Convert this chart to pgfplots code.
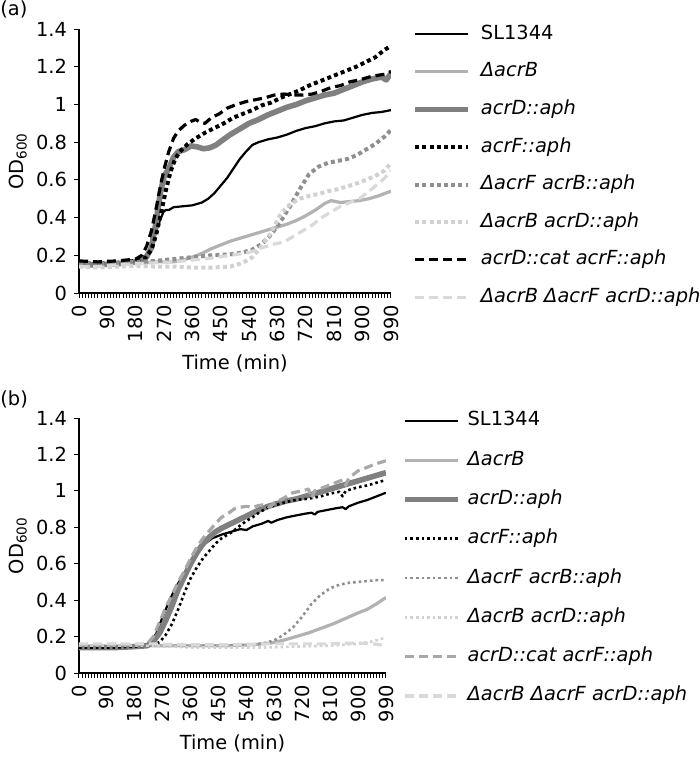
\documentclass[border=0pt]{standalone}
\usepackage{fontspec}
\setmainfont{DejaVu Sans}
\usepackage{pgfplots}
\pgfplotsset{compat=1.18}
\newcommand{\fs}{\fontsize{9.7}{11.6}\selectfont}
\definecolor{cLB}{gray}{0.70}
\definecolor{cDG}{gray}{0.50}
\definecolor{cMG}{gray}{0.56}
\definecolor{cVL}{gray}{0.82}
\definecolor{cLD}{gray}{0.85}
\definecolor{cGD}{gray}{0.66}
\pgfplotsset{
 base/.style={
  scale only axis, axis lines=left,
  axis line style={-, line width=0.6pt},
  xmin=0,xmax=990,ymin=0,ymax=1.4,
  xtick={0,90,...,990}, minor x tick num=8,
  xticklabels={0,90,180,270,360,450,540,630,720,810,900,990},
  ytick={0,0.2,0.4,0.6,0.8,1,1.2,1.4},
  yticklabels={0,0.2,0.4,0.6,0.8,1,1.2,1.4},
  tick align=outside, major tick length=2.5pt, minor tick length=2.5pt,
  tick style={line width=0.5pt, black},
  xticklabel style={rotate=90, anchor=east, font=\fs},
  yticklabel style={font=\fs},
  /pgf/number format/assume math mode=true,
  ylabel={OD\textsubscript{600}}, xlabel={Time (min)},
  label style={font=\fs},
  legend cell align=left,
  legend image code/.code={\draw[##1] (0pt,0pt) -- (26.5pt,0pt);},
  every axis plot/.append style={line join=round},
 }
}
\begin{document}
\begin{tikzpicture}
\useasboundingbox (0,0) rectangle (350pt,-380.5pt);
\node[anchor=north west, inner sep=0pt, font=\fs] at (0pt,0pt) {(a)};
\node[anchor=north west, inner sep=0pt, font=\fs] at (0pt,-195pt) {(b)};
% ---------------- panel (a)
\begin{axis}[base, at={(39.5pt,-146.5pt)}, anchor=south west, width=156pt, height=132pt,
  ylabel style={at={(axis description cs:-0.1955,0.5)}, anchor=center},
  xlabel style={at={(axis description cs:0.5,-0.265)}, anchor=center},
  legend style={at={(axis description cs:1.0673,1.0197)}, anchor=north west, draw=none, fill=none,
    inner sep=0pt, font=\fs, row sep=8.8pt, column sep=5pt,
    nodes={inner sep=0pt, text height=7.5pt, text depth=2.5pt}},
]
\addplot[black, line width=1.1pt] coordinates {
(0,0.16)(30,0.155)(60,0.155)(90,0.155)(120,0.16)(150,0.165)(180,0.17)(200,0.18)(215,0.2)(230,0.25)(245,0.33)(258,0.39)(268,0.43)(275,0.44)(285,0.44)(300,0.455)(330,0.46)(360,0.465)(390,0.48)(410,0.50)(430,0.53)(450,0.57)(470,0.61)(490,0.66)(510,0.71)(530,0.75)(550,0.785)(570,0.80)(600,0.815)(630,0.825)(660,0.84)(690,0.86)(720,0.875)(750,0.885)(780,0.9)(810,0.91)(840,0.915)(870,0.93)(900,0.945)(930,0.955)(960,0.96)(990,0.97)};
\addlegendentry{SL1344}
\addplot[cLB, line width=1.6pt] coordinates {
(0,0.15)(60,0.145)(120,0.15)(180,0.16)(240,0.165)(300,0.165)(330,0.175)(360,0.19)(390,0.21)(420,0.235)(450,0.255)(480,0.275)(510,0.29)(540,0.305)(570,0.32)(600,0.335)(630,0.35)(660,0.365)(690,0.385)(720,0.41)(750,0.44)(780,0.475)(800,0.49)(830,0.48)(860,0.485)(890,0.49)(920,0.5)(950,0.515)(990,0.54)};
\addlegendentry{\textit{ΔacrB}}
\addplot[cDG, line width=2.8pt] coordinates {
(0,0.15)(60,0.15)(120,0.155)(180,0.165)(210,0.18)(230,0.24)(245,0.38)(258,0.53)(270,0.62)(285,0.66)(300,0.72)(315,0.75)(335,0.76)(355,0.78)(375,0.775)(395,0.765)(415,0.77)(435,0.785)(455,0.81)(480,0.84)(510,0.87)(540,0.9)(570,0.92)(600,0.945)(630,0.965)(660,0.985)(690,1.0)(720,1.02)(750,1.035)(780,1.05)(810,1.06)(840,1.08)(870,1.1)(900,1.12)(930,1.135)(960,1.145)(975,1.13)(990,1.165)};
\addlegendentry{\textit{acrD::aph}}
\addplot[black, line width=2pt, dash pattern=on 2pt off 1.6pt] coordinates {
(0,0.16)(60,0.155)(120,0.16)(180,0.17)(210,0.185)(230,0.23)(245,0.31)(260,0.42)(275,0.54)(290,0.64)(305,0.71)(320,0.75)(345,0.79)(370,0.82)(400,0.85)(430,0.875)(460,0.9)(490,0.93)(520,0.95)(550,0.97)(580,0.995)(610,1.01)(640,1.035)(670,1.055)(700,1.075)(730,1.1)(760,1.12)(790,1.14)(820,1.16)(850,1.18)(880,1.2)(910,1.225)(940,1.25)(970,1.29)(990,1.31)};
\addlegendentry{\textit{acrF::aph}}
\addplot[cMG, line width=2pt, dash pattern=on 2pt off 1.6pt] coordinates {
(0,0.16)(60,0.155)(120,0.16)(180,0.165)(240,0.17)(300,0.18)(360,0.19)(420,0.2)(480,0.205)(520,0.215)(550,0.23)(580,0.26)(610,0.31)(640,0.38)(670,0.46)(700,0.55)(730,0.63)(760,0.67)(790,0.69)(820,0.7)(850,0.71)(880,0.73)(910,0.76)(940,0.79)(970,0.83)(990,0.865)};
\addlegendentry{\textit{ΔacrF acrB::aph}}
\addplot[cVL, line width=2pt, dash pattern=on 2pt off 1.6pt] coordinates {
(0,0.14)(60,0.135)(120,0.14)(180,0.145)(240,0.14)(300,0.14)(360,0.135)(420,0.135)(480,0.14)(520,0.16)(550,0.19)(580,0.25)(610,0.32)(640,0.42)(670,0.47)(700,0.5)(730,0.515)(760,0.525)(790,0.54)(820,0.55)(850,0.565)(880,0.58)(910,0.6)(940,0.62)(970,0.65)(990,0.69)};
\addlegendentry{\textit{ΔacrB acrD::aph}}
\addplot[black, line width=1.6pt, dash pattern=on 4.5pt off 2.5pt] coordinates {
(0,0.17)(30,0.168)(60,0.165)(90,0.168)(120,0.17)(150,0.175)(180,0.18)(200,0.2)(215,0.25)(230,0.33)(245,0.45)(260,0.58)(272,0.67)(285,0.75)(300,0.82)(315,0.86)(335,0.89)(355,0.91)(370,0.92)(385,0.905)(400,0.9)(420,0.93)(445,0.95)(470,0.98)(500,1.0)(530,1.015)(560,1.025)(590,1.035)(620,1.05)(650,1.055)(680,1.05)(710,1.05)(740,1.055)(770,1.07)(800,1.09)(830,1.1)(860,1.12)(890,1.13)(920,1.145)(950,1.155)(970,1.16)(990,1.175)};
\addlegendentry{\textit{acrD::cat acrF::aph}}
\addplot[cLD, line width=1.6pt, dash pattern=on 4.5pt off 2.5pt] coordinates {
(0,0.14)(60,0.14)(120,0.15)(180,0.155)(240,0.16)(300,0.165)(360,0.175)(420,0.185)(480,0.2)(540,0.215)(580,0.24)(620,0.26)(650,0.27)(680,0.3)(710,0.33)(740,0.36)(770,0.4)(800,0.43)(830,0.46)(860,0.48)(890,0.5)(920,0.54)(950,0.58)(970,0.61)(990,0.65)};
\addlegendentry{\textit{ΔacrB ΔacrF acrD::aph}}
\end{axis}
% ---------------- panel (b)
\begin{axis}[base, at={(39.5pt,-336.5pt)}, anchor=south west, width=153.5pt, height=127.5pt,
  ylabel style={at={(axis description cs:-0.199,0.5)}, anchor=center},
  xlabel style={at={(axis description cs:0.5,-0.278)}, anchor=center},
  legend style={at={(axis description cs:1.0511,1.0298)}, anchor=north west, draw=none, fill=none,
    inner sep=0pt, font=\fs, row sep=9.65pt, column sep=3.5pt,
    nodes={inner sep=0pt, text height=7.5pt, text depth=2.5pt}},
]
\addplot[black, line width=1.1pt] coordinates {
(0,0.14)(30,0.135)(60,0.14)(90,0.14)(120,0.14)(150,0.14)(180,0.145)(210,0.15)(230,0.165)(250,0.22)(270,0.31)(290,0.39)(310,0.465)(330,0.52)(350,0.58)(370,0.635)(390,0.68)(410,0.715)(430,0.74)(460,0.76)(490,0.775)(520,0.79)(540,0.785)(560,0.805)(590,0.82)(610,0.835)(620,0.825)(640,0.84)(670,0.855)(700,0.865)(730,0.875)(750,0.88)(760,0.87)(770,0.885)(800,0.895)(830,0.905)(850,0.91)(860,0.9)(870,0.915)(900,0.935)(930,0.95)(960,0.97)(990,0.99)};
\addlegendentry{SL1344}
\addplot[cLB, line width=1.6pt] coordinates {
(0,0.14)(120,0.145)(240,0.15)(360,0.15)(480,0.15)(560,0.155)(620,0.165)(660,0.18)(700,0.2)(740,0.22)(780,0.245)(820,0.27)(860,0.3)(900,0.33)(930,0.35)(960,0.38)(990,0.415)};
\addlegendentry{\textit{ΔacrB}}
\addplot[cDG, line width=2.8pt] coordinates {
(0,0.14)(60,0.14)(120,0.14)(180,0.145)(220,0.15)(240,0.175)(260,0.22)(280,0.29)(300,0.37)(320,0.46)(340,0.53)(360,0.6)(380,0.66)(400,0.71)(420,0.745)(440,0.775)(460,0.795)(490,0.82)(520,0.845)(550,0.87)(580,0.895)(610,0.915)(640,0.93)(670,0.945)(700,0.955)(730,0.97)(760,0.985)(790,1.0)(820,1.015)(850,1.03)(880,1.045)(910,1.06)(940,1.075)(970,1.09)(990,1.1)};
\addlegendentry{\textit{acrD::aph}}
\addplot[black, line width=1.3pt, dash pattern=on 1.3pt off 1.5pt] coordinates {
(0,0.14)(60,0.14)(120,0.14)(180,0.145)(240,0.155)(260,0.17)(280,0.21)(300,0.27)(320,0.35)(340,0.44)(360,0.52)(380,0.58)(400,0.63)(420,0.67)(440,0.71)(460,0.74)(490,0.77)(505,0.79)(520,0.81)(540,0.835)(560,0.855)(580,0.88)(610,0.91)(640,0.925)(670,0.94)(700,0.95)(730,0.955)(750,0.96)(780,0.97)(810,0.985)(840,0.995)(850,0.97)(860,1.0)(900,1.02)(930,1.03)(960,1.045)(990,1.06)};
\addlegendentry{\textit{acrF::aph}}
\addplot[cMG, line width=1.3pt, dash pattern=on 1.3pt off 1.5pt] coordinates {
(0,0.15)(120,0.15)(240,0.15)(360,0.145)(480,0.15)(560,0.155)(600,0.165)(630,0.18)(660,0.21)(690,0.25)(720,0.31)(750,0.38)(780,0.43)(810,0.465)(840,0.485)(870,0.495)(900,0.5)(930,0.505)(960,0.51)(990,0.51)};
\addlegendentry{\textit{ΔacrF acrB::aph}}
\addplot[cVL, line width=1.3pt, dash pattern=on 1.3pt off 1.5pt] coordinates {
(0,0.15)(120,0.15)(240,0.15)(360,0.14)(480,0.14)(600,0.14)(700,0.145)(800,0.15)(900,0.16)(950,0.175)(990,0.195)};
\addlegendentry{\textit{ΔacrB acrD::aph}}
\addplot[cGD, line width=1.6pt, dash pattern=on 4.5pt off 2.5pt] coordinates {
(0,0.155)(60,0.155)(120,0.155)(180,0.155)(220,0.16)(240,0.2)(260,0.28)(280,0.36)(300,0.43)(320,0.5)(340,0.56)(360,0.63)(380,0.69)(400,0.74)(420,0.78)(440,0.82)(460,0.855)(480,0.875)(500,0.9)(520,0.91)(540,0.915)(560,0.91)(580,0.92)(600,0.925)(615,0.91)(630,0.935)(660,0.96)(690,0.99)(720,1.0)(740,1.01)(750,0.96)(760,1.0)(790,1.02)(820,1.04)(850,1.06)(860,1.03)(870,1.07)(900,1.11)(930,1.13)(960,1.15)(990,1.165)};
\addlegendentry{\textit{acrD::cat acrF::aph}}
\addplot[cLD, line width=1.6pt, dash pattern=on 4.5pt off 2.5pt] coordinates {
(0,0.16)(120,0.16)(240,0.16)(360,0.155)(480,0.155)(600,0.16)(700,0.16)(800,0.16)(900,0.165)(950,0.16)(990,0.15)};
\addlegendentry{\textit{ΔacrB ΔacrF acrD::aph}}
\end{axis}
\end{tikzpicture}
\end{document}
